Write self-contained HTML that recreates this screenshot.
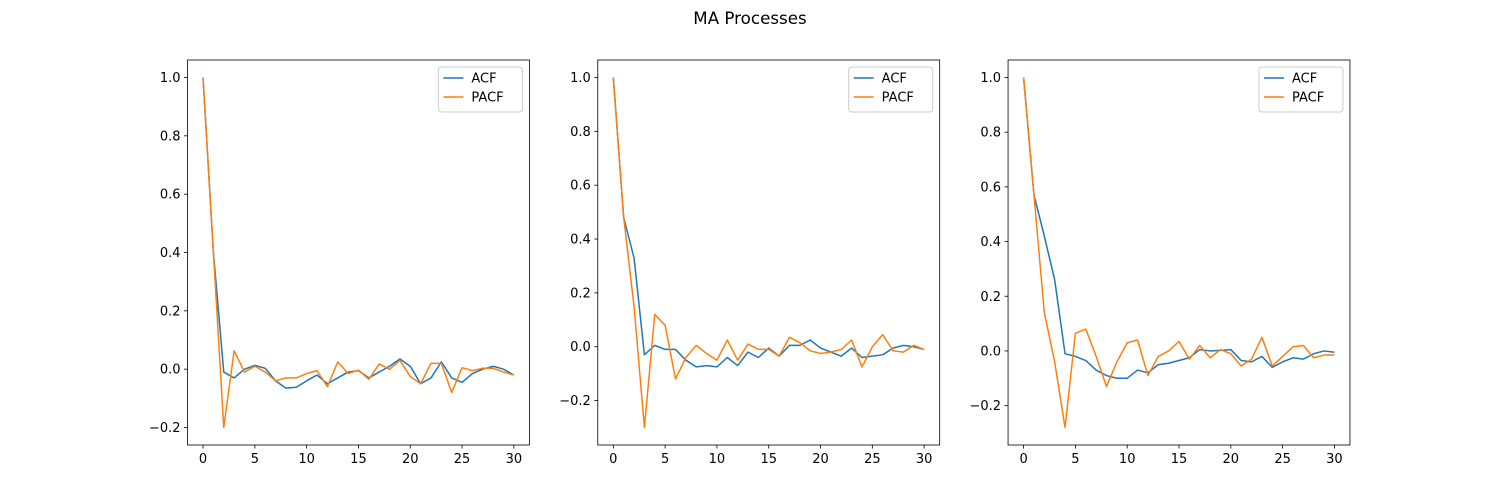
<!DOCTYPE html>
<html><head><meta charset="utf-8"><style>
body{margin:0;background:#fff;}
svg{display:block;font-family:"DejaVu Sans","Liberation Sans",sans-serif;}
</style></head><body>
<svg id="fig" width="1500" height="500">
<text x="750" y="24" text-anchor="middle" font-size="16.7">MA Processes</text>
</svg>
<script>
const lags=[...Array(31).keys()];
const xTicks=[0,5,10,15,20,25,30];
const yTicks=[-0.2,0,0.2,0.4,0.6,0.8,1.0];
const acf1=[1.0,0.40,-0.01,-0.03,0.0,0.013,0.003,-0.04,-0.065,-0.062,-0.04,-0.02,-0.05,-0.03,-0.01,-0.005,-0.03,-0.01,0.01,0.035,0.01,-0.05,-0.03,0.025,-0.03,-0.045,-0.015,0.0,0.01,0.0,-0.02];
const pacf1=[1.0,0.40,-0.2,0.063,-0.01,0.01,-0.01,-0.04,-0.03,-0.03,-0.015,-0.005,-0.06,0.025,-0.015,-0.003,-0.035,0.018,0.0,0.03,-0.025,-0.05,0.02,0.02,-0.08,0.005,-0.005,0.003,0.003,-0.01,-0.02];
const acf2=[1.0,0.48,0.33,-0.03,0.005,-0.01,-0.01,-0.05,-0.075,-0.07,-0.075,-0.04,-0.07,-0.02,-0.04,-0.005,-0.035,0.005,0.005,0.025,-0.005,-0.02,-0.035,-0.005,-0.04,-0.035,-0.03,-0.005,0.005,0.0,-0.01];
const pacf2=[1.0,0.48,0.15,-0.30,0.12,0.08,-0.12,-0.04,0.005,-0.025,-0.05,0.025,-0.05,0.01,-0.01,-0.01,-0.035,0.035,0.015,-0.015,-0.025,-0.02,-0.01,0.025,-0.075,0.0,0.045,-0.015,-0.02,0.005,-0.01];
const acf3=[1.0,0.57,0.42,0.26,-0.01,-0.02,-0.035,-0.07,-0.09,-0.10,-0.10,-0.07,-0.08,-0.05,-0.045,-0.035,-0.025,0.005,0.0,0.002,0.005,-0.035,-0.04,-0.02,-0.06,-0.04,-0.025,-0.03,-0.01,0.0,-0.005];
const pacf3=[1.0,0.57,0.14,-0.04,-0.28,0.065,0.08,-0.02,-0.13,-0.04,0.03,0.04,-0.09,-0.02,0.0,0.035,-0.03,0.02,-0.025,0.005,-0.01,-0.055,-0.03,0.05,-0.055,-0.02,0.015,0.02,-0.025,-0.015,-0.015];
const panels=[[acf1,pacf1],[acf2,pacf2],[acf3,pacf3]];
const NS="http://www.w3.org/2000/svg";
const svg=document.getElementById('fig');
function mk(t,a,p){const e=document.createElementNS(NS,t);for(const k in a)e.setAttribute(k,a[k]);(p||svg).appendChild(e);return e;}
const W=341.9,T=60,B=445;
panels.forEach((pd,i)=>{
  const L=187.5+i*(W*1.2), R=L+W;
  const all=pd[0].concat(pd[1]);
  const mn=Math.min(...all),mx=Math.max(...all),m=(mx-mn)*0.05;
  const y0=mn-m,y1=mx+m,x0=-1.5,x1=31.5;
  const X=v=>L+(v-x0)/(x1-x0)*W, Y=v=>B-(v-y0)/(y1-y0)*(B-T);
  const g=mk('g',{});
  
  
  const cols=['#1f77b4','#ff7f0e'],names=['acf','pacf'];
  pd.forEach((s,j)=>{
    const p=mk('polyline',{points:s.map((v,k)=>X(lags[k]).toFixed(2)+','+Y(v).toFixed(2)).join(' '),fill:'none',stroke:cols[j],'stroke-width':1.5,'stroke-linejoin':'round'},g);
    
    
  });
  const fr=mk('rect',{x:L,y:T,width:W,height:B-T,fill:'none',stroke:'#000','stroke-width':0.8},g);
  
  
  xTicks.forEach(t=>{
    mk('line',{x1:X(t),x2:X(t),y1:B,y2:B+3.5,stroke:'#000','stroke-width':0.8},g);
    const tx=mk('text',{x:X(t),y:B+18,'text-anchor':'middle','font-size':13},g);
    tx.textContent=t;
    
    
  });
  yTicks.forEach(t=>{
    if(t<y0||t>y1)return;
    mk('line',{x1:L-3.5,x2:L,y1:Y(t),y2:Y(t),stroke:'#000','stroke-width':0.8},g);
    const tx=mk('text',{x:L-7,y:Y(t)+4.5,'text-anchor':'end','font-size':13},g);
    tx.textContent=(t<0?'\u2212':'')+Math.abs(t).toFixed(1);
    
    
  });
  const lg=mk('g',{},g);
  
  
  mk('rect',{x:R-91,y:67,width:84,height:45,rx:3,fill:'#fff',stroke:'#ccc','stroke-width':1},lg);
  ['ACF','PACF'].forEach((n,j)=>{
    mk('line',{x1:R-86,x2:R-66,y1:78+j*19,y2:78+j*19,stroke:cols[j],'stroke-width':1.5},lg);
    const tx=mk('text',{x:R-58,y:82.5+j*19,'font-size':13},lg);
    tx.textContent=n;
    
    
  });
});
</script>
</body></html>
